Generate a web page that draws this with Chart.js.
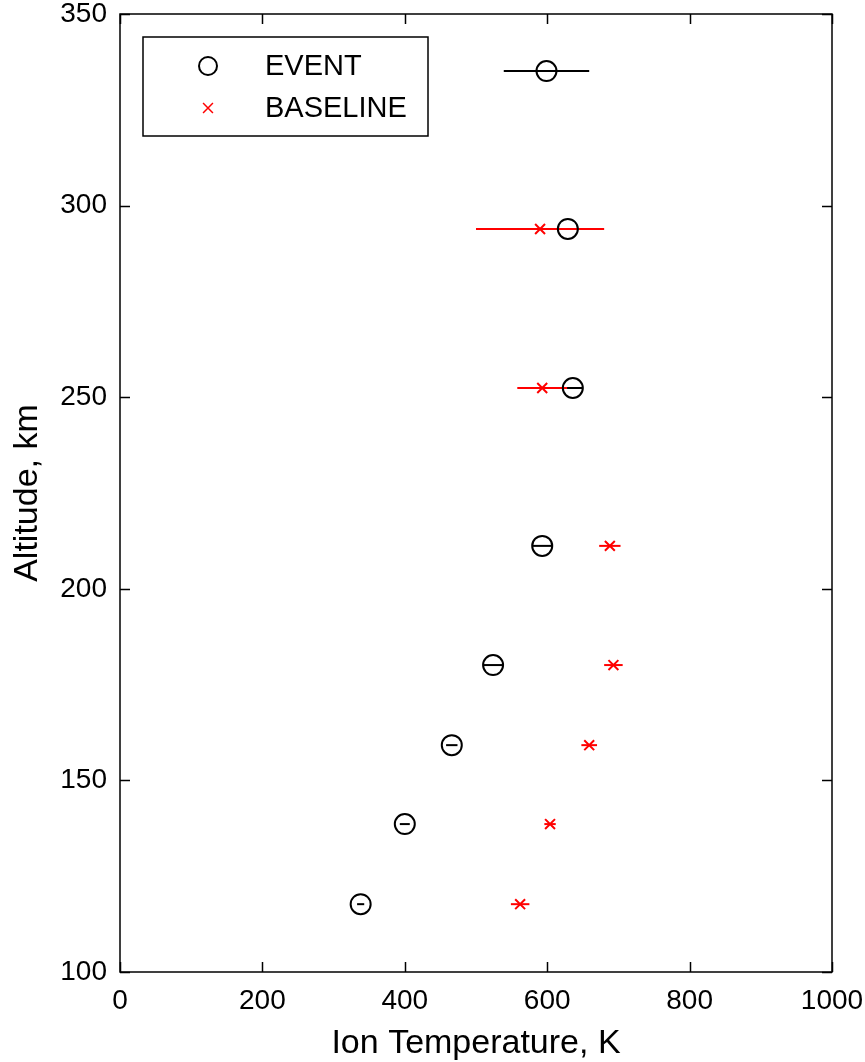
<!DOCTYPE html>
<html>
<head>
<meta charset="utf-8">
<script src="https://cdn.jsdelivr.net/npm/chart.js@4"></script>
<style>
  body { margin: 0; background: #fff; }
  canvas { display: block; }
</style>
</head>
<body>
<canvas id="grafico" width="865" height="1062"></canvas>
<script>
// dados
var altitude = [117.7, 138.6, 159.2, 180.1, 211.2, 252.4, 293.9, 335.1]
var eventTemp = [338, 400, 466, 524, 593, 636, 629, 599]
var eventErr = [5, 7, 8, 14, 14, 14, 30, 60]
var baselineTemp = [562, 604, 659, 693, 688, 593, 590, null]
var baselineErr = [13, 8, 11, 13, 15, 35, 90, null]
var xTicks = [0, 200, 400, 600, 800, 1000]
var yTicks = [100, 150, 200, 250, 300, 350]

function pontos(temps){
    var lista = []
    temps.forEach((t, i) => {
        if (t != null) lista.push({x: t, y: altitude[i]})
    })
    return lista
}

// barras de erro horizontais
const barrasErro = {
    id: 'barrasErro',
    beforeDatasetsDraw(chart){
        const ctx = chart.ctx
        const x = chart.scales.x
        const y = chart.scales.y
        const series = [[eventTemp, eventErr, '#000'], [baselineTemp, baselineErr, '#ff0000']]
        ctx.save()
        series.forEach(s => {
            ctx.strokeStyle = s[2]
            ctx.lineWidth = 2
            s[0].forEach((t, i) => {
                if (t == null) return
                const py = y.getPixelForValue(altitude[i])
                ctx.beginPath()
                ctx.moveTo(x.getPixelForValue(t - s[1][i]), py)
                ctx.lineTo(x.getPixelForValue(t + s[1][i]), py)
                ctx.stroke()
            })
        })
        ctx.restore()
    }
}

// moldura e ticks para dentro (estilo matlab)
const moldura = {
    id: 'moldura',
    afterDatasetsDraw(chart){
        const ctx = chart.ctx
        const a = chart.chartArea
        const x = chart.scales.x
        const y = chart.scales.y
        ctx.save()
        ctx.strokeStyle = '#000'
        ctx.lineWidth = 1.5
        ctx.strokeRect(a.left, a.top, a.right - a.left, a.bottom - a.top)
        ctx.beginPath()
        xTicks.forEach(v => {
            const px = Math.round(x.getPixelForValue(v)) + 0.5
            ctx.moveTo(px, a.bottom); ctx.lineTo(px, a.bottom - 10)
            ctx.moveTo(px, a.top); ctx.lineTo(px, a.top + 10)
        })
        yTicks.forEach(v => {
            const py = Math.round(y.getPixelForValue(v)) + 0.5
            ctx.moveTo(a.left, py); ctx.lineTo(a.left + 10, py)
            ctx.moveTo(a.right, py); ctx.lineTo(a.right - 10, py)
        })
        ctx.stroke()
        ctx.restore()
    },
    afterDraw(chart){
        // legenda com caixa, no canto superior esquerdo
        const ctx = chart.ctx
        const a = chart.chartArea
        const bx = a.left + 23, by = a.top + 23, bw = 285, bh = 99
        ctx.save()
        ctx.fillStyle = '#fff'
        ctx.fillRect(bx, by, bw, bh)
        ctx.strokeStyle = '#000'
        ctx.lineWidth = 1.5
        ctx.strokeRect(bx, by, bw, bh)
        ctx.font = '29px "Liberation Sans", Arial, sans-serif'
        ctx.textBaseline = 'middle'
        chart.data.datasets.forEach((ds, i) => {
            const ly = by + 29 + i * 42
            ctx.strokeStyle = ds.borderColor
            ctx.fillStyle = 'rgba(0,0,0,0)'
            ctx.lineWidth = i == 0 ? 2 : 1.5
            Chart.helpers.drawPoint(ctx, {
                pointStyle: ds.pointStyle,
                radius: i == 0 ? 9 : 7,
                borderWidth: ctx.lineWidth
            }, bx + 65, ly)
            ctx.fillStyle = '#000'
            ctx.fillText(ds.label, bx + 122, ly + 1)
        })
        ctx.restore()
    }
}

const fonteTicks = {family: '"Liberation Sans", Arial, sans-serif', size: 28}
const fonteTitulo = {family: '"Liberation Sans", Arial, sans-serif', size: 34, lineHeight: 1}

function semPadding(s){
    s.paddingTop = 0
    s.paddingRight = 0
    s.paddingLeft = 0
    s.paddingBottom = 0
}

new Chart(document.getElementById('grafico'), {
    type: 'scatter',
    data: {
        datasets: [{
            label: 'EVENT',
            data: pontos(eventTemp),
            pointStyle: 'circle',
            pointRadius: 10,
            borderColor: '#000',
            backgroundColor: 'rgba(0,0,0,0)',
            borderWidth: 2
        }, {
            label: 'BASELINE',
            data: pontos(baselineTemp),
            pointStyle: 'crossRot',
            pointRadius: 7,
            borderColor: '#ff0000',
            backgroundColor: '#ff0000',
            borderWidth: 2
        }]
    },
    options: {
        responsive: false,
        animation: false,
        events: [],
        layout: { padding: {left: 0, right: 33, top: 14, bottom: 0} },
        plugins: {
            legend: { display: false },
            tooltip: { enabled: false }
        },
        scales: {
            x: {
                type: 'linear',
                min: 0, max: 1000,
                afterBuildTicks: s => { s.ticks = xTicks.map(v => ({value: v})) },
                afterFit: s => { s.height = 90; semPadding(s) },
                grid: { display: false, drawTicks: false },
                border: { display: false },
                ticks: { color: '#000', font: fonteTicks, padding: 12, maxRotation: 0, callback: v => String(v) },
                title: { display: true, text: 'Ion Temperature, K', color: '#000', font: fonteTitulo, padding: {top: 0, bottom: 1} }
            },
            y: {
                type: 'linear',
                min: 100, max: 350,
                afterBuildTicks: s => { s.ticks = yTicks.map(v => ({value: v})) },
                afterFit: s => { s.width = 120; semPadding(s) },
                grid: { display: false, drawTicks: false },
                border: { display: false },
                ticks: { color: '#000', font: fonteTicks, padding: 13, callback: v => String(v) },
                title: { display: true, text: 'Altitude, km', color: '#000', font: fonteTitulo, padding: {top: 11, bottom: 0} }
            }
        }
    },
    plugins: [barrasErro, moldura]
})
</script>
</body>
</html>
